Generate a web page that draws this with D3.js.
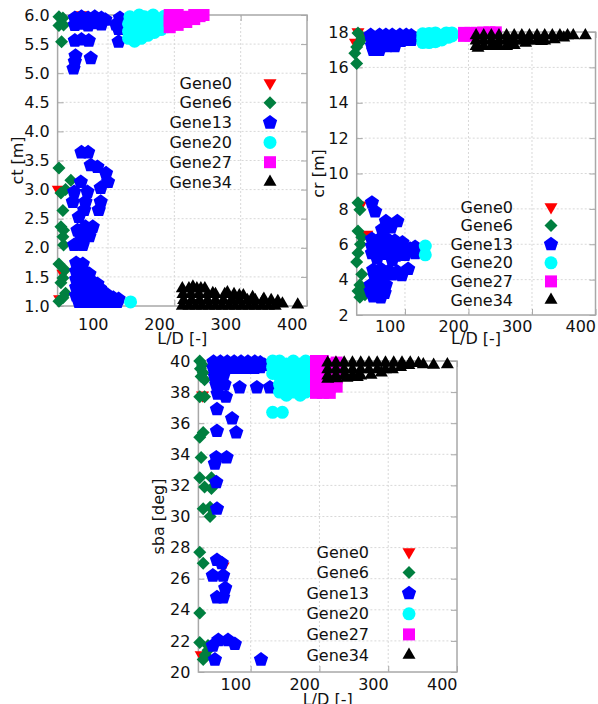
<!DOCTYPE html>
<head>
  <meta charset="utf-8">
  <script src="https://d3js.org/d3.v7.min.js"></script>
  <style>
    body { margin: 0; background: #fff; }
    svg { display: block; }
    text { font-family: "DejaVu Sans", sans-serif; font-size: 16px; fill: #111; }
  </style>
</head>
<body>
  <svg width="598" height="704"></svg>
  <script>
    var genes = ["Gene0", "Gene6", "Gene13", "Gene20", "Gene27", "Gene34"];
    var colors = ["#ff0000", "#007f3f", "#0000ff", "#00ffff", "#ff00ff", "#000000"];
    var ldTicks = [100, 200, 300, 400];
    var ctTicks = [1.0, 1.5, 2.0, 2.5, 3.0, 3.5, 4.0, 4.5, 5.0, 5.5, 6.0];
    var crTicks = [2, 4, 6, 8, 10, 12, 14, 16, 18];
    var sbaTicks = [20, 22, 24, 26, 28, 30, 32, 34, 36, 38, 40];

    // [L/D, ct] per generation
    var ctGene0 = [[59, 6.0], [25, 3.0], [32, 1.56], [27, 1.12]];
    var ctGene6 = [[26, 5.97], [32, 5.95], [26, 5.82], [33, 5.83], [30, 5.54], [26, 3.37], [44, 3.16], [36, 3.0],
      [29, 2.94], [32, 2.64], [29, 2.36], [33, 2.3], [32, 2.19], [33, 2.05], [26, 1.72], [35, 1.62], [32, 1.48],
      [29, 1.4], [36, 1.22], [32, 1.14], [26, 1.08]];
    var ctGene13 = [[50, 5.95], [50, 5.83], [60, 5.97], [60, 5.85], [70, 5.95], [70, 5.82], [80, 5.97], [80, 5.86],
      [90, 5.95], [90, 5.84], [96, 5.92], [58, 5.9], [75, 5.9], [86, 5.9], [112, 5.84], [116, 5.76], [118, 5.95],
      [50, 5.56], [60, 5.58], [71, 5.56], [116, 5.54], [51, 5.3], [50, 5.2], [48, 5.08], [74, 5.26],
      [60, 3.64], [70, 3.64], [74, 3.42], [84, 3.39], [97, 3.28], [100, 3.13], [59, 3.13], [49, 2.96], [69, 2.96],
      [89, 3.03], [47, 2.79], [66, 2.79], [89, 2.79], [64, 2.65], [86, 2.65], [56, 2.53], [66, 2.36], [77, 2.36],
      [54, 2.3], [59, 2.19], [72, 2.2], [49, 2.05], [62, 2.05],
      [52, 1.74], [62, 1.72], [52, 1.6], [64, 1.6], [72, 1.55], [52, 1.46], [62, 1.46], [74, 1.44], [84, 1.38],
      [52, 1.32], [64, 1.32], [76, 1.3], [88, 1.3], [52, 1.18], [64, 1.18], [76, 1.18], [88, 1.18], [98, 1.2],
      [108, 1.14], [116, 1.12], [56, 1.07], [68, 1.07], [80, 1.07], [92, 1.07], [104, 1.07], [114, 1.07]];
    var ctGene20 = [[131, 5.6], [131, 5.72], [131, 5.85], [133, 5.97], [140, 5.55], [140, 5.67], [142, 5.8],
      [142, 5.92], [147, 6.0], [150, 5.6], [152, 5.72], [152, 5.85], [155, 5.97], [160, 5.65], [162, 5.78],
      [163, 5.9], [168, 6.0], [170, 5.7], [172, 5.82], [175, 5.93], [180, 5.75], [182, 5.87], [185, 5.98],
      [190, 5.8], [190, 5.92], [134, 1.07]];
    var ctGene27 = [[193, 5.79], [193, 5.9], [193, 6.0], [205, 5.83], [205, 5.93], [205, 6.0], [218, 5.88],
      [218, 5.97], [230, 5.93], [230, 6.0], [238, 5.98], [244, 6.0]];
    var ctGene34 = [[212, 1.0], [222, 1.0], [232, 1.0], [242, 1.0], [252, 1.0], [262, 1.0], [272, 1.0], [282, 1.0],
      [292, 1.0], [302, 1.0], [312, 1.0], [322, 1.0], [332, 1.0], [342, 1.0], [352, 1.0],
      [214, 1.1], [226, 1.1], [238, 1.1], [250, 1.1], [262, 1.1], [274, 1.1], [286, 1.1], [298, 1.1], [310, 1.1],
      [322, 1.1], [334, 1.1], [346, 1.1],
      [213, 1.2], [225, 1.2], [237, 1.2], [250, 1.2], [262, 1.2], [276, 1.2], [290, 1.2], [304, 1.18],
      [212, 1.3], [222, 1.3], [234, 1.3], [246, 1.3],
      [363, 1.04], [386, 1.02], [356, 1.08], [318, 1.15], [280, 1.23], [258, 1.22], [228, 1.33], [240, 1.3],
      [298, 1.18], [335, 1.12]];

    // [L/D, cr] per generation
    var crGene0 = [[22, 17.4], [26, 18.0], [30, 17.75], [40, 6.55], [30, 8.2]];
    var crGene6 = [[26, 17.94], [32, 17.6], [28, 17.38], [24, 17.15], [21, 16.8], [24, 16.22], [26, 8.35],
      [29, 7.95], [26, 6.75], [32, 6.4], [30, 6.0], [26, 5.5], [24, 5.0], [32, 4.3], [29, 3.7], [26, 3.35],
      [29, 3.0], [37, 3.15], [33, 3.5]];
    var crGene13 = [[46, 17.83], [48, 17.55], [48, 17.25], [50, 16.98], [60, 17.83], [60, 17.55], [60, 17.25],
      [60, 16.98], [70, 17.83], [70, 17.5], [72, 17.2], [80, 17.83], [82, 17.5], [84, 17.2], [92, 17.83],
      [94, 17.5], [102, 17.83], [104, 17.55], [110, 17.8], [110, 17.55],
      [48, 8.35], [53, 7.85], [70, 7.3], [88, 7.3], [64, 6.85], [78, 6.95],
      [48, 6.3], [60, 6.3], [72, 6.3], [84, 6.2], [96, 6.1], [48, 5.9], [60, 5.9], [72, 5.85], [84, 5.8],
      [96, 5.7], [108, 5.75], [116, 5.85], [116, 5.5], [48, 5.5], [60, 5.5], [72, 5.45], [86, 5.35],
      [100, 5.4], [56, 5.2], [80, 5.1],
      [50, 4.55], [62, 4.6], [75, 4.5], [88, 4.45], [105, 4.6], [95, 4.25], [52, 4.25], [66, 4.2], [80, 4.3],
      [46, 3.7], [58, 3.75], [70, 3.7], [46, 3.35], [58, 3.3], [68, 3.25], [50, 3.05], [62, 3.0]];
    var crGene20 = [[128, 17.4], [128, 17.65], [128, 17.9], [138, 17.4], [138, 17.65], [138, 17.92],
      [148, 17.45], [148, 17.7], [148, 17.95], [158, 17.55], [158, 17.8], [165, 17.95], [168, 17.7],
      [174, 17.78], [174, 17.95], [132, 5.9], [132, 5.4]];
    var crGene27 = [[193, 17.95], [193, 17.78], [203, 17.95], [203, 17.8], [213, 17.95], [213, 17.82],
      [223, 17.97], [233, 17.98], [243, 17.98]];
    var crGene34 = [[212, 17.8], [224, 17.8], [236, 17.8], [248, 17.8], [260, 17.8], [272, 17.8], [284, 17.8],
      [296, 17.8], [308, 17.8], [320, 17.8], [332, 17.8], [344, 17.8], [356, 17.8], [365, 17.8], [384, 17.8],
      [212, 17.5], [224, 17.5], [236, 17.5], [248, 17.5], [260, 17.5], [272, 17.5], [284, 17.5], [296, 17.5],
      [308, 17.5], [320, 17.5],
      [212, 17.2], [224, 17.2], [236, 17.2], [248, 17.2], [260, 17.2], [272, 17.25],
      [215, 17.1], [240, 17.2], [265, 17.28], [290, 17.38], [315, 17.48], [335, 17.58], [350, 17.68]];

    // [L/D, sba] per generation
    var sbaGene0 = [[30, 37.8], [28, 21.1], [60, 26.8]];
    var sbaGene6 = [[26, 40.0], [30, 39.75], [27, 39.5], [31, 39.25], [28, 39.0], [33, 38.8], [26, 37.7],
      [33, 37.7], [31, 35.4], [26, 35.1], [28, 33.8], [26, 32.5], [43, 32.5], [33, 31.9], [43, 31.8], [31, 30.5],
      [41, 30.6], [41, 30.0], [26, 27.7], [31, 27.0], [26, 23.8], [26, 21.9], [38, 21.7], [38, 21.4], [31, 20.8],
      [34, 21.1]];
    var sbaGene13 = [[46, 39.95], [46, 39.55], [56, 39.95], [56, 39.55], [66, 39.95], [66, 39.55], [76, 39.95],
      [76, 39.55], [86, 39.95], [86, 39.55], [96, 39.95], [96, 39.55], [106, 39.95], [106, 39.55], [114, 39.9],
      [114, 39.6], [120, 39.75], [48, 39.0], [60, 39.0], [50, 38.5], [62, 38.5], [52, 37.9], [64, 37.7],
      [84, 38.3], [109, 38.3], [128, 38.3], [51, 36.9], [73, 36.3], [51, 35.5], [79, 35.4], [50, 33.8],
      [65, 33.8], [48, 33.4], [50, 32.2], [51, 30.5], [51, 27.2], [58, 27.0], [45, 26.2], [60, 26.2], [63, 25.4],
      [51, 24.8], [60, 24.8], [53, 22.05], [67, 22.05], [77, 21.8], [45, 21.7], [48, 20.8], [115, 20.8]];
    var sbaGene20 = [[132, 40.0], [132, 39.6], [132, 39.2], [142, 40.0], [142, 39.5], [142, 39.0], [142, 38.5],
      [142, 38.0], [152, 39.8], [152, 39.3], [152, 38.8], [152, 38.3], [152, 37.8], [162, 40.0], [162, 39.5],
      [162, 39.0], [162, 38.5], [162, 38.0], [172, 39.8], [172, 39.3], [172, 38.8], [172, 38.3], [172, 37.8],
      [180, 40.0], [180, 39.5], [180, 39.0], [180, 38.5], [180, 38.0], [132, 36.7], [146, 36.7]];
    var sbaGene27 = [[195, 40.0], [195, 39.5], [195, 39.0], [195, 38.5], [195, 37.95], [205, 40.0], [205, 39.5],
      [205, 39.0], [205, 38.5], [205, 37.95], [215, 39.8], [215, 39.3], [215, 38.8], [215, 38.3], [215, 37.95],
      [225, 39.9], [225, 39.4], [225, 38.9], [225, 38.35]];
    var sbaGene34 = [[212, 39.88], [224, 39.88], [236, 39.88], [248, 39.88], [260, 39.88], [272, 39.88],
      [284, 39.88], [296, 39.88], [308, 39.88], [320, 39.88], [332, 39.88], [344, 39.85], [351, 39.78],
      [366, 39.75], [386, 39.78],
      [212, 39.45], [224, 39.45], [236, 39.45], [248, 39.45], [260, 39.45], [272, 39.45], [284, 39.45],
      [296, 39.45], [306, 39.45],
      [212, 39.05], [224, 39.05], [236, 39.05], [248, 39.05], [260, 39.05],
      [212, 38.84], [225, 38.87], [240, 38.9], [255, 38.95], [275, 39.1], [290, 39.25], [318, 39.6], [330, 39.72]];

    // marker shapes, one per generation
    function polygon(pts) {
      return {
        draw: function (ctx) {
          ctx.moveTo(pts[0][0], pts[0][1]);
          pts.slice(1).forEach(function (p) { ctx.lineTo(p[0], p[1]); });
          ctx.closePath();
        }
      };
    }
    var pent = d3.range(5).map(function (i) {
      var a = -Math.PI / 2 + i * 2 * Math.PI / 5;
      return [7.5 * Math.cos(a), 7.5 * Math.sin(a)];
    });
    var symbols = [
      d3.symbol().type(polygon([[0, 7.5], [6.5, -3.75], [-6.5, -3.75]]))(),
      d3.symbol().type(polygon([[0, -6.5], [6.5, 0], [0, 6.5], [-6.5, 0]]))(),
      d3.symbol().type(polygon(pent))(),
      d3.symbol().type(d3.symbolCircle).size(Math.PI * 6.5 * 6.5)(),
      d3.symbol().type(polygon([[-6, -6], [6, -6], [6, 6], [-6, 6]]))(),
      d3.symbol().type(polygon([[0, -7.5], [6.5, 3.75], [-6.5, 3.75]]))()
    ];

    var panels = [
      {
        left: 57.6, right: 307, top: 15, bottom: 306, yDomain: [1, 6], yTicks: ctTicks, fmt: d3.format('.1f'),
        series: [ctGene0, ctGene6, ctGene13, ctGene20, ctGene27, ctGene34],
        yTitle: 'ct [m]', yTitleX: 17, xTitleY: 344, xLabelY: 330,
        legX: 232, legSym: 270, legY: 83, legStep: 19.8
      },
      {
        left: 356.7, right: 595.5, top: 32, bottom: 315, yDomain: [2, 18], yTicks: crTicks, fmt: d3.format('d'),
        series: [crGene0, crGene6, crGene13, crGene20, crGene27, crGene34],
        yTitle: 'cr [m]', yTitleX: 318, xTitleY: 344, xLabelY: 332,
        legX: 513, legSym: 551, legY: 207, legStep: 18.6
      },
      {
        left: 198.4, right: 457, top: 361, bottom: 672, yDomain: [20, 40], yTicks: sbaTicks, fmt: d3.format('d'),
        series: [sbaGene0, sbaGene6, sbaGene13, sbaGene20, sbaGene27, sbaGene34],
        yTitle: 'sba [deg]', yTitleX: 158, xTitleY: 705, xLabelY: 690,
        legX: 369, legSym: 409, legY: 552, legStep: 20.6
      }
    ];

    var svg = d3.select('svg');

    panels.forEach(function (p) {
      var x = d3.scaleLinear().domain([24, 400]).range([p.left, p.right]);
      var y = d3.scaleLinear().domain(p.yDomain).range([p.bottom, p.top]);
      var g = svg.append('g');

      // dotted grid
      g.append('g').selectAll('line').data(p.yTicks.slice(1, -1)).join('line')
        .attr('x1', p.left).attr('x2', p.right)
        .attr('y1', function (d) { return y(d); }).attr('y2', function (d) { return y(d); })
        .attr('stroke', '#d8d8d8').attr('stroke-dasharray', '2,2');
      g.append('g').selectAll('line').data(ldTicks.slice(0, -1)).join('line')
        .attr('y1', p.top).attr('y2', p.bottom)
        .attr('x1', function (d) { return x(d); }).attr('x2', function (d) { return x(d); })
        .attr('stroke', '#d8d8d8').attr('stroke-dasharray', '2,2');

      g.append('rect')
        .attr('x', p.left).attr('y', p.top)
        .attr('width', p.right - p.left).attr('height', p.bottom - p.top)
        .attr('fill', 'none').attr('stroke', '#a8a8a8').attr('stroke-width', 1.5);

      var yAxis = g.append('g').attr('transform', 'translate(' + [p.left, 0] + ')')
        .call(d3.axisLeft(y).tickValues(p.yTicks).tickSize(-6).tickPadding(8).tickFormat(p.fmt));
      g.append('g').attr('transform', 'translate(' + [p.right, 0] + ')')
        .call(d3.axisRight(y).tickValues(p.yTicks).tickSize(-6).tickFormat(''));
      var xAxis = g.append('g').attr('transform', 'translate(' + [0, p.bottom] + ')')
        .call(d3.axisBottom(x).tickValues(ldTicks).tickSize(-6).tickFormat(d3.format('d')));
      g.append('g').attr('transform', 'translate(' + [0, p.top] + ')')
        .call(d3.axisTop(x).tickValues(ldTicks).tickSize(-6).tickFormat(''));

      g.selectAll('.domain').remove();
      g.selectAll('.tick line').attr('stroke', '#a8a8a8');
      g.selectAll('.tick text').attr('font-size', null).attr('font-family', null).attr('fill', '#111');
      xAxis.selectAll('.tick text')
        .attr('text-anchor', 'end').attr('dy', null)
        .attr('y', p.xLabelY - p.bottom);

      // axis titles
      g.append('text')
        .attr('transform', 'translate(' + [p.yTitleX, (p.top + p.bottom) / 2] + ') rotate(-90)')
        .attr('text-anchor', 'middle').attr('dominant-baseline', 'central')
        .text(p.yTitle);
      g.append('text')
        .attr('x', (p.left + p.right) / 2).attr('y', p.xTitleY)
        .attr('text-anchor', 'middle')
        .text('L/D [-]');

      // points, older generations first
      p.series.forEach(function (pts, i) {
        g.append('g').selectAll('path').data(pts).join('path')
          .attr('d', symbols[i])
          .attr('transform', function (d) { return 'translate(' + [x(d[0]), y(d[1])] + ')'; })
          .attr('fill', colors[i]);
      });

      // legend
      var leg = g.append('g');
      genes.forEach(function (name, i) {
        var ly = p.legY + i * p.legStep;
        leg.append('text').attr('x', p.legX).attr('y', ly)
          .attr('text-anchor', 'end').attr('dominant-baseline', 'central').text(name);
        leg.append('path').attr('d', symbols[i])
          .attr('transform', 'translate(' + [p.legSym, ly] + ')')
          .attr('fill', colors[i]);
      });
    });
  </script>
</body>
